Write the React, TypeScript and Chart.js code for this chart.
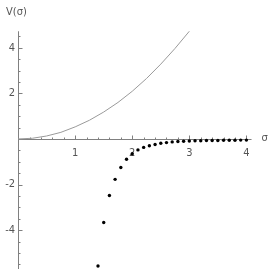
import React, { useEffect, useRef } from "react";
import { Chart, registerables } from "chart.js";
Chart.register(...registerables);

// Continuous curve V(σ)
const curveSigma = [0, 0.25, 0.5, 0.75, 1, 1.25, 1.5, 1.75, 2, 2.25, 2.5, 2.75, 3];
const curveV = [0, 0.03, 0.13, 0.29, 0.53, 0.82, 1.18, 1.6, 2.09, 2.65, 3.28, 3.97, 4.72];

// Discrete points
const dotSigma = [1.4, 1.5, 1.6, 1.7, 1.8, 1.9, 2.0, 2.1, 2.2, 2.3, 2.4, 2.5, 2.6, 2.7, 2.8, 2.9, 3.0, 3.1, 3.2, 3.3, 3.4, 3.5, 3.6, 3.7, 3.8, 3.9, 4.0];
const dotV = [-5.57, -3.66, -2.48, -1.77, -1.25, -0.89, -0.65, -0.48, -0.37, -0.3, -0.24, -0.19, -0.16, -0.13, -0.11, -0.1, -0.09, -0.08, -0.08, -0.07, -0.07, -0.07, -0.06, -0.06, -0.06, -0.05, -0.05];

const xTickLabels = [1, 2, 3, 4];
const yTickLabels = [-4, -2, 2, 4];
const xAxisLabel = "σ";
const yAxisLabel = "V(σ)";

const X_MIN = -0.247;
const X_MAX = 4.396;
const Y_MIN = -5.7;
const Y_MAX = 5.915;
const X_AXIS_END = 4.09;
const Y_AXIS_TOP = 4.72;

const FONT = "11px 'Liberation Sans Narrow', 'DejaVu Sans Condensed', 'DejaVu Sans', sans-serif";

const axesPlugin = {
  id: "mmaAxes",
  beforeDatasetsDraw(chart: any) {
    const ctx = chart.ctx as CanvasRenderingContext2D;
    const xs = chart.scales.x;
    const ys = chart.scales.y;
    const x0 = xs.getPixelForValue(0);
    const y0 = ys.getPixelForValue(0);
    ctx.save();
    ctx.strokeStyle = "#808080";
    ctx.lineWidth = 1;
    ctx.beginPath();
    ctx.moveTo(x0, Math.round(y0) + 0.5);
    ctx.lineTo(xs.getPixelForValue(X_AXIS_END), Math.round(y0) + 0.5);
    ctx.moveTo(Math.round(x0) + 0.5, ys.getPixelForValue(Y_AXIS_TOP));
    ctx.lineTo(Math.round(x0) + 0.5, ys.getPixelForValue(Y_MIN));
    ctx.stroke();
    ctx.beginPath();
    for (let i = 1; i <= 20; i++) {
      const v = i * 0.2;
      const px = Math.round(xs.getPixelForValue(v)) + 0.5;
      const major = i % 5 === 0;
      ctx.moveTo(px, Math.round(y0) + 0.5);
      ctx.lineTo(px, Math.round(y0) + 0.5 - (major ? 4 : 2));
    }
    for (let i = -11; i <= 9; i++) {
      if (i === 0) continue;
      const v = i * 0.5;
      const py = Math.round(ys.getPixelForValue(v)) + 0.5;
      const major = i % 4 === 0;
      ctx.moveTo(Math.round(x0) + 0.5, py);
      ctx.lineTo(Math.round(x0) + 0.5 + (major ? 4 : 2), py);
    }
    ctx.stroke();
    ctx.fillStyle = "#555";
    ctx.font = FONT;
    ctx.textAlign = "center";
    ctx.textBaseline = "middle";
    for (const t of xTickLabels) {
      ctx.fillText(String(t), xs.getPixelForValue(t), y0 + 14);
    }
    ctx.textAlign = "right";
    for (const t of yTickLabels) {
      ctx.fillText(String(t), x0 - 3, ys.getPixelForValue(t));
    }
    ctx.textAlign = "left";
    ctx.fillText(xAxisLabel, xs.getPixelForValue(X_AXIS_END) + 10, y0 - 1);
    ctx.fillText(yAxisLabel, x0 - 12, ys.getPixelForValue(Y_AXIS_TOP) - 19);
    ctx.restore();
  },
};

export default function App() {
  const ref = useRef<HTMLCanvasElement>(null);
  useEffect(() => {
    if (!ref.current) return;
    const chart = new Chart(ref.current, {
      type: "scatter",
      data: {
        datasets: [
          {
            type: "line",
            data: curveSigma.map((s, i) => ({ x: s, y: curveV[i] })),
            borderColor: "#9a9a9a",
            borderWidth: 1,
            pointRadius: 0,
            tension: 0,
            fill: false,
          } as any,
          {
            data: dotSigma.map((s, i) => ({ x: s, y: dotV[i] })),
            backgroundColor: "#000",
            borderWidth: 0,
            pointRadius: 1.7,
          },
        ],
      },
      options: {
        responsive: false,
        animation: false,
        layout: { padding: 0 },
        plugins: { legend: { display: false }, tooltip: { enabled: false } },
        scales: {
          x: { type: "linear", min: X_MIN, max: X_MAX, display: false },
          y: { type: "linear", min: Y_MIN, max: Y_MAX, display: false },
        },
      },
      plugins: [axesPlugin],
    });
    return () => chart.destroy();
  }, []);
  return (
    <div style={{ position: "absolute", left: 0, top: 0, width: 273, height: 273, background: "#fff" }}>
      <canvas ref={ref} width={273} height={273} />
    </div>
  );
}
